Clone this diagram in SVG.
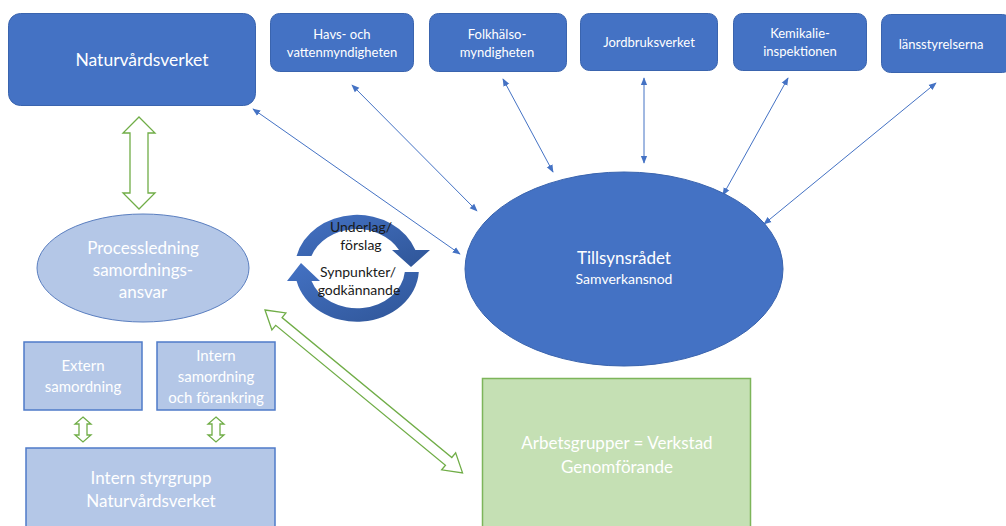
<svg xmlns="http://www.w3.org/2000/svg" width="1006" height="526" viewBox="0 0 1006 526">
<defs>
<style>
.dk{fill:#4472C4;stroke:#3A64AE;stroke-width:1}
.lt{fill:#B4C7E7;stroke:#4F7BC9;stroke-width:1.5}
.gr{fill:#C5E0B4;stroke:#7DB55A;stroke-width:1.5}
.ga{fill:#FFFFFF;stroke:#70AD47;stroke-width:1.3}
.t{font-family:Lato,"Open Sans","Liberation Sans",sans-serif;fill:#FFFFFF;text-anchor:middle}
.tb{font-family:Lato,"Open Sans","Liberation Sans",sans-serif;fill:#1A1A1A;text-anchor:middle;font-size:14px}
.c{stroke:#4472C4;stroke-width:1;fill:none;marker-start:url(#ah);marker-end:url(#ah)}
</style>
<marker id="ah" viewBox="0 0 10 10" refX="9" refY="5" markerWidth="8" markerHeight="8" markerUnits="userSpaceOnUse" orient="auto-start-reverse">
<path d="M0,1 L10,5 L0,9 Z" fill="#4472C4"/>
</marker>
<linearGradient id="cg" x1="0" y1="0" x2="1" y2="1">
<stop offset="0" stop-color="#4472C4"/>
<stop offset="1" stop-color="#2F5597"/>
</linearGradient>
</defs>

<g id="connectors">
<line class="c" x1="253" y1="109" x2="460" y2="254"/>
<line class="c" x1="352" y1="85" x2="477" y2="211"/>
<line class="c" x1="503" y1="79" x2="553" y2="172"/>
<line class="c" x1="644" y1="78" x2="644" y2="163"/>
<line class="c" x1="788" y1="78" x2="723" y2="195"/>
<line class="c" x1="936" y1="83" x2="764" y2="224"/>
<polygon class="ga" points="139,117 155,133 148,133 148,193 155,193 139,209 123,193 130,193 130,133 123,133"/>
<polygon class="ga" points="83,417 91,424 87,424 87,435 91,435 83,442 75,435 79,435 79,424 75,424"/>
<polygon class="ga" points="216,417 224,424 220,424 220,435 224,435 216,442 208,435 212,435 212,424 208,424"/>
<polygon class="ga" transform="translate(265,310) rotate(39.5)" points="0,0 18,-11 18,-5 238,-5 238,-11 256,0 238,11 238,5 18,5 18,11"/>
</g>

<g id="cycle">
<path fill="url(#cg)" d="M296.6 256 A62 53 0 0 1 415.4 250 L430 250 L411 267 L392 250 L399 250 A48 40 0 0 0 311.5 256 Z"/>
<path fill="url(#cg)" d="M418.8 272 A62 53 0 0 1 296.6 281 L287 281 L301 263 L320 281 L311.5 281 A48 40 0 0 0 404.8 272 Z"/>
<text class="tb" x="361" y="232">Underlag/</text>
<text class="tb" x="361" y="250">förslag</text>
<text class="tb" x="358" y="277">Synpunkter/</text>
<text class="tb" x="359" y="295">godkännande</text>
</g>

<g id="naturvardsverket">
<rect class="dk" x="8.5" y="13.5" width="247" height="92" rx="12"/>
<text class="t" x="142" y="66" font-size="17.5">Naturvårdsverket</text>
</g>
<g id="havs">
<rect class="dk" x="270.5" y="13.5" width="143" height="58" rx="9"/>
<text class="t" x="342" y="39" font-size="13">Havs- och</text>
<text class="t" x="342" y="57" font-size="13">vattenmyndigheten</text>
</g>
<g id="folkhalso">
<rect class="dk" x="429.5" y="13.5" width="137" height="58" rx="9"/>
<text class="t" x="497" y="39" font-size="13">Folkhälso-</text>
<text class="t" x="497" y="57" font-size="13">myndigheten</text>
</g>
<g id="jordbruksverket">
<rect class="dk" x="580.5" y="13.5" width="137" height="57" rx="9"/>
<text class="t" x="649" y="47" font-size="13">Jordbruksverket</text>
</g>
<g id="kemikalie">
<rect class="dk" x="733.5" y="13.5" width="133" height="57" rx="9"/>
<text class="t" x="800" y="38" font-size="13">Kemikalie-</text>
<text class="t" x="800" y="56" font-size="13">inspektionen</text>
</g>
<g id="lansstyrelserna">
<rect class="dk" x="881.5" y="14.5" width="130" height="58" rx="9"/>
<text class="t" x="941" y="49" font-size="13">länsstyrelserna</text>
</g>

<g id="tillsynsradet">
<ellipse class="dk" cx="624" cy="269" rx="159" ry="97"/>
<text class="t" x="624" y="264" font-size="17">Tillsynsrådet</text>
<text class="t" x="624" y="284" font-size="14">Samverkansnod</text>
</g>

<g id="processledning">
<ellipse class="lt" cx="143" cy="268" rx="106" ry="54" style="stroke:#5B7FC0;stroke-width:1"/>
<text class="t" x="143" y="254" font-size="17">Processledning</text>
<text class="t" x="143" y="276" font-size="17">samordnings-</text>
<text class="t" x="143" y="298" font-size="17">ansvar</text>
</g>

<g id="extern">
<rect class="lt" x="24" y="342" width="118" height="68"/>
<text class="t" x="83" y="371" font-size="15">Extern</text>
<text class="t" x="83" y="392" font-size="15">samordning</text>
</g>
<g id="intern">
<rect class="lt" x="157" y="342" width="118" height="68"/>
<text class="t" x="216" y="361" font-size="15">Intern</text>
<text class="t" x="216" y="382" font-size="15">samordning</text>
<text class="t" x="216" y="403" font-size="15">och förankring</text>
</g>
<g id="styrgrupp">
<rect class="lt" x="26" y="448" width="249" height="82"/>
<text class="t" x="151" y="484" font-size="17">Intern styrgrupp</text>
<text class="t" x="151" y="507" font-size="17">Naturvårdsverket</text>
</g>

<g id="arbetsgrupper">
<rect class="gr" x="482.5" y="378.5" width="268" height="152"/>
<text class="t" x="617" y="449" font-size="17">Arbetsgrupper = Verkstad</text>
<text class="t" x="617" y="473" font-size="17">Genomförande</text>
</g>
</svg>
